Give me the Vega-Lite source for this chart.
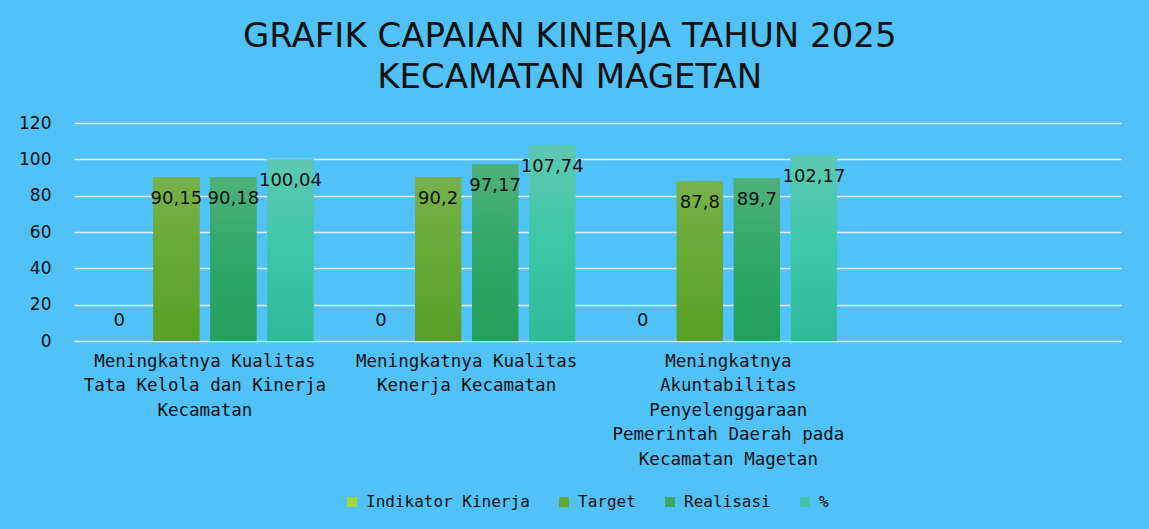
{
  "$schema": "https://vega.github.io/schema/vega-lite/v6.json",
  "width": 1047,
  "height": 218,
  "autosize": {"type": "none"},
  "padding": {"left": 74, "top": 123, "right": 28, "bottom": 188},
  "background": "#50C2F7",
  "config": {
    "view": {"stroke": null},
    "locale": {"number": {"decimal": ",", "thousands": ".", "grouping": [3], "currency": ["Rp", ""]}}
  },
  "title": {
    "text": ["GRAFIK CAPAIAN KINERJA TAHUN 2025", "KECAMATAN MAGETAN"],
    "font": "DejaVu Sans",
    "fontSize": 34,
    "fontWeight": "normal",
    "lineHeight": 41,
    "color": "#111111",
    "anchor": "middle",
    "frame": "bounds",
    "offset": 19
  },
  "data": {
    "values": [
      {"kategori": "Meningkatnya Kualitas Tata Kelola dan Kinerja Kecamatan", "seri": "Indikator Kinerja", "nilai": 0},
      {"kategori": "Meningkatnya Kualitas Tata Kelola dan Kinerja Kecamatan", "seri": "Target", "nilai": 90.15},
      {"kategori": "Meningkatnya Kualitas Tata Kelola dan Kinerja Kecamatan", "seri": "Realisasi", "nilai": 90.18},
      {"kategori": "Meningkatnya Kualitas Tata Kelola dan Kinerja Kecamatan", "seri": "%", "nilai": 100.04},
      {"kategori": "Meningkatnya Kualitas Kenerja Kecamatan", "seri": "Indikator Kinerja", "nilai": 0},
      {"kategori": "Meningkatnya Kualitas Kenerja Kecamatan", "seri": "Target", "nilai": 90.2},
      {"kategori": "Meningkatnya Kualitas Kenerja Kecamatan", "seri": "Realisasi", "nilai": 97.17},
      {"kategori": "Meningkatnya Kualitas Kenerja Kecamatan", "seri": "%", "nilai": 107.74},
      {"kategori": "Meningkatnya Akuntabilitas Penyelenggaraan Pemerintah Daerah pada Kecamatan Magetan", "seri": "Indikator Kinerja", "nilai": 0},
      {"kategori": "Meningkatnya Akuntabilitas Penyelenggaraan Pemerintah Daerah pada Kecamatan Magetan", "seri": "Target", "nilai": 87.8},
      {"kategori": "Meningkatnya Akuntabilitas Penyelenggaraan Pemerintah Daerah pada Kecamatan Magetan", "seri": "Realisasi", "nilai": 89.7},
      {"kategori": "Meningkatnya Akuntabilitas Penyelenggaraan Pemerintah Daerah pada Kecamatan Magetan", "seri": "%", "nilai": 102.17}
    ]
  },
  "encoding": {
    "x": {
      "field": "kategori",
      "type": "nominal",
      "sort": null,
      "scale": {
        "domain": [
          "Meningkatnya Kualitas Tata Kelola dan Kinerja Kecamatan",
          "Meningkatnya Kualitas Kenerja Kecamatan",
          "Meningkatnya Akuntabilitas Penyelenggaraan Pemerintah Daerah pada Kecamatan Magetan",
          " "
        ],
        "paddingInner": 0,
        "paddingOuter": 0
      },
      "axis": {
        "title": null,
        "labelAngle": 0,
        "domain": false,
        "ticks": false,
        "labelFont": "DejaVu Sans Mono",
        "labelFontSize": 17.5,
        "labelColor": "#111111",
        "labelPadding": 11,
        "labelLineHeight": 24.5,
        "labelLimit": 400,
        "labelBaseline": "top",
        "labelExpr": "datum.label == 'Meningkatnya Kualitas Tata Kelola dan Kinerja Kecamatan' ? ['Meningkatnya Kualitas', 'Tata Kelola dan Kinerja', 'Kecamatan'] : datum.label == 'Meningkatnya Kualitas Kenerja Kecamatan' ? ['Meningkatnya Kualitas', 'Kenerja  Kecamatan'] : datum.label == ' ' ? '' : ['Meningkatnya', 'Akuntabilitas', 'Penyelenggaraan', 'Pemerintah Daerah pada', 'Kecamatan Magetan']"
      }
    },
    "xOffset": {
      "field": "seri",
      "type": "nominal",
      "sort": ["Indikator Kinerja", "Target", "Realisasi", "%"],
      "scale": {"paddingInner": 0.19, "paddingOuter": 0.39}
    },
    "y": {
      "field": "nilai",
      "type": "quantitative",
      "scale": {"domain": [0, 120], "nice": false},
      "axis": {
        "title": null,
        "values": [0, 20, 40, 60, 80, 100, 120],
        "domain": false,
        "ticks": false,
        "grid": true,
        "gridColor": "#E4E8EA",
        "gridWidth": 1.5,
        "labelFont": "DejaVu Sans",
        "labelFontSize": 17,
        "labelColor": "#111111",
        "labelPadding": 23
      }
    }
  },
  "layer": [
    {
      "mark": {"type": "bar"},
      "encoding": {
        "color": {
          "field": "seri",
          "type": "nominal",
          "sort": ["Indikator Kinerja", "Target", "Realisasi", "%"],
          "scale": {
            "domain": ["Indikator Kinerja", "Target", "Realisasi", "%"],
            "range": ["#A8D23A", "#65A831", "#35A968", "#44C4A6"]
          },
          "legend": {
            "title": null,
            "orient": "none",
            "legendX": 270,
            "legendY": 371,
            "direction": "horizontal",
            "symbolType": "square",
            "symbolSize": 100,
            "symbolStrokeWidth": 0,
            "labelFont": "DejaVu Sans Mono",
            "labelFontSize": 16,
            "labelColor": "#111111",
            "labelLimit": 300,
            "labelOffset": 6,
            "columnPadding": 26
          }
        }
      }
    },
    {
      "transform": [{"filter": "datum.seri == 'Target'"}],
      "mark": {"type": "bar", "color": {"gradient": "linear", "x1": 0, "y1": 0, "x2": 0, "y2": 1, "stops": [{"offset": 0, "color": "#78B24C"}, {"offset": 0.5, "color": "#64A934"}, {"offset": 1, "color": "#579F27"}]}},
      "encoding": {}
    },
    {
      "transform": [{"filter": "datum.seri == 'Realisasi'"}],
      "mark": {"type": "bar", "color": {"gradient": "linear", "x1": 0, "y1": 0, "x2": 0, "y2": 1, "stops": [{"offset": 0, "color": "#4FB17B"}, {"offset": 0.5, "color": "#2FA766"}, {"offset": 1, "color": "#23A05C"}]}},
      "encoding": {}
    },
    {
      "transform": [{"filter": "datum.seri == '%'"}],
      "mark": {"type": "bar", "color": {"gradient": "linear", "x1": 0, "y1": 0, "x2": 0, "y2": 1, "stops": [{"offset": 0, "color": "#5EC8B2"}, {"offset": 0.5, "color": "#3CC8A7"}, {"offset": 1, "color": "#31B898"}]}},
      "encoding": {}
    },
    {
      "transform": [{"filter": "datum.nilai > 0"}],
      "mark": {"type": "text", "baseline": "middle", "dy": 22, "font": "DejaVu Sans", "fontSize": 18, "color": "#111111"},
      "encoding": {"text": {"field": "nilai", "type": "quantitative", "format": ".2~f"}}
    },
    {
      "transform": [{"filter": "datum.nilai == 0"}],
      "mark": {"type": "text", "baseline": "middle", "dy": -20, "font": "DejaVu Sans", "fontSize": 18, "color": "#111111"},
      "encoding": {"text": {"field": "nilai", "type": "quantitative", "format": ".2~f"}}
    }
  ]
}
